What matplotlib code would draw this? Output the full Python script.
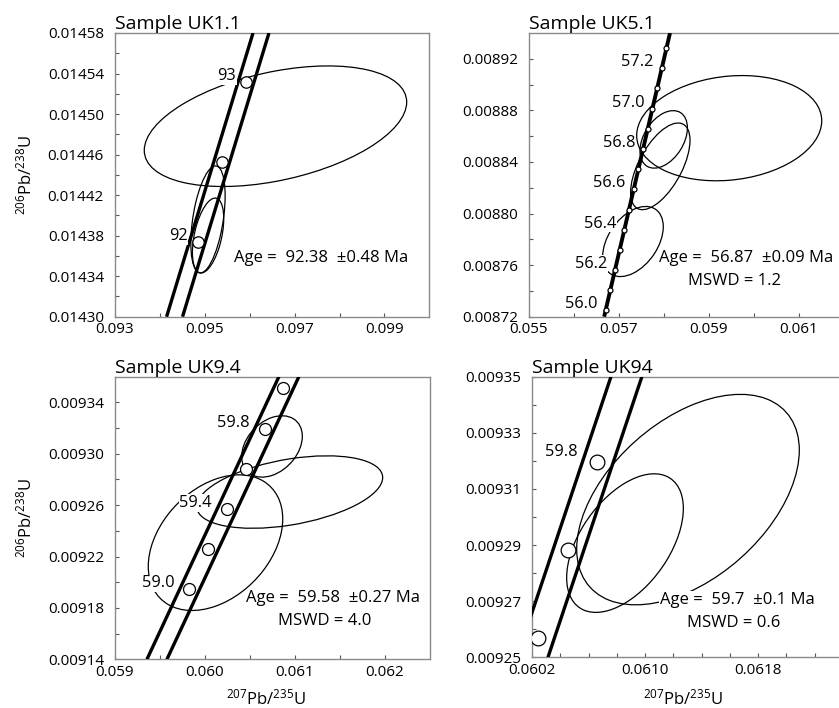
import matplotlib
matplotlib.use('Agg')
import matplotlib.pyplot as plt
from matplotlib.patches import Ellipse
from matplotlib.transforms import Affine2D
from matplotlib.ticker import FixedLocator, FixedFormatter, NullFormatter
import numpy as np

plt.rcParams['font.family'] = ['Open Sans', 'DejaVu Sans']
plt.rcParams['mathtext.fontset'] = 'custom'
plt.rcParams['mathtext.rm'] = 'Open Sans'
plt.rcParams['mathtext.it'] = 'Open Sans:italic'
plt.rcParams['mathtext.bf'] = 'Open Sans:bold'

# ---------------- Panel 1 : UK1.1 ----------------
p1_title = "Sample UK1.1"
p1_xlim = (0.093, 0.100)
p1_ylim = (0.01430, 0.01458)
p1_xmajor = [0.093, 0.095, 0.097, 0.099]
p1_xlabels = ["0.093", "0.095", "0.097", "0.099"]
p1_xminor = [0.094, 0.096, 0.098]
p1_ymajor = [0.01430, 0.01434, 0.01438, 0.01442, 0.01446, 0.01450, 0.01454, 0.01458]
p1_ylabels = ["0.01430", "0.01434", "0.01438", "0.01442", "0.01446", "0.01450", "0.01454", "0.01458"]
p1_yminor = [0.01432, 0.01436, 0.01440, 0.01444, 0.01448, 0.01452, 0.01456]
p1_band_x = [[0.094149, 0.096074], [0.094504, 0.096429]]
p1_band_y = [[0.01430, 0.01458], [0.01430, 0.01458]]
p1_mark_x = [0.0948378, 0.0953770, 0.0959166]
p1_mark_y = [0.0143738, 0.0144525, 0.0145312]
p1_mark_lab = ["92", "", "93"]
p1_ell_x = [0.096574, 0.095071, 0.095073]
p1_ell_y = [0.014488, 0.014396, 0.0143801]
p1_ell_sx = [0.002922, 0.000382, 0.000349]
p1_ell_sy = [5.95e-5, 5.28e-5, 3.70e-5]
p1_ell_rho = [0.40, 0.44, 0.45]
p1_age = "Age =  92.38  \u00b10.48 Ma"
p1_mswd = ""

# ---------------- Panel 2 : UK5.1 ----------------
p2_title = "Sample UK5.1"
p2_xlim = (0.055, 0.062)
p2_ylim = (0.00872, 0.00894)
p2_xmajor = [0.055, 0.057, 0.059, 0.061]
p2_xlabels = ["0.055", "0.057", "0.059", "0.061"]
p2_xminor = [0.056, 0.058, 0.060]
p2_ymajor = [0.00872, 0.00876, 0.00880, 0.00884, 0.00888, 0.00892]
p2_ylabels = ["0.00872", "0.00876", "0.00880", "0.00884", "0.00888", "0.00892"]
p2_yminor = [0.00874, 0.00878, 0.00882, 0.00886, 0.00890]
p2_band_x = [[0.05667, 0.058133]]
p2_band_y = [[0.00872, 0.00894]]
p2_mark_x = [0.0567008, 0.0568049, 0.0569090, 0.0570131, 0.0571172, 0.0572214, 0.0573255,
             0.0574297, 0.0575339, 0.0576381, 0.0577423, 0.0578466, 0.0579508, 0.0580551]
p2_mark_y = [0.0087249, 0.0087405, 0.0087562, 0.0087718, 0.0087875, 0.0088031, 0.0088188,
             0.0088344, 0.0088501, 0.0088657, 0.0088814, 0.0088970, 0.0089127, 0.0089283]
p2_mark_lab = ["56.0", "", "56.2", "", "56.4", "", "56.6", "", "56.8", "", "57.0", "", "57.2", ""]
p2_ell_x = [0.059449, 0.057993, 0.057918, 0.057311]
p2_ell_y = [0.0088662, 0.0088575, 0.0088366, 0.0087783]
p2_ell_sx = [0.002056, 0.000527, 0.000660, 0.000673]
p2_ell_sy = [4.08e-5, 2.23e-5, 3.36e-5, 2.72e-5]
p2_ell_rho = [0.14, 0.40, 0.60, 0.42]
p2_age = "Age =  56.87  \u00b10.09 Ma"
p2_mswd = "MSWD = 1.2"

# ---------------- Panel 3 : UK9.4 ----------------
p3_title = "Sample UK9.4"
p3_xlim = (0.059, 0.0625)
p3_ylim = (0.00914, 0.00936)
p3_xmajor = [0.059, 0.060, 0.061, 0.062]
p3_xlabels = ["0.059", "0.060", "0.061", "0.062"]
p3_xminor = [0.0595, 0.0605, 0.0615]
p3_ymajor = [0.00914, 0.00918, 0.00922, 0.00926, 0.00930, 0.00934]
p3_ylabels = ["0.00914", "0.00918", "0.00922", "0.00926", "0.00930", "0.00934"]
p3_yminor = [0.00916, 0.00920, 0.00924, 0.00928, 0.00932]
p3_band_x = [[0.059355, 0.060821], [0.059577, 0.061043]]
p3_band_y = [[0.00914, 0.00936], [0.00914, 0.00936]]
p3_mark_x = [0.0598276, 0.0600364, 0.0602451, 0.0604540, 0.0606628, 0.0608717]
p3_mark_y = [0.0091944, 0.0092257, 0.0092570, 0.0092883, 0.0093196, 0.0093509]
p3_mark_lab = ["59.0", "", "59.4", "", "59.8", ""]
p3_ell_x = [0.0607444, 0.0609411, 0.0601167]
p3_ell_y = [0.0093057, 0.0092702, 0.0092308]
p3_ell_sx = [0.000337, 0.001033, 0.000747]
p3_ell_sy = [2.39e-5, 2.82e-5, 5.28e-5]
p3_ell_rho = [0.33, 0.40, 0.35]
p3_age = "Age =  59.58  \u00b10.27 Ma"
p3_mswd = "MSWD = 4.0"

# ---------------- Panel 4 : UK94 ----------------
p4_title = "Sample UK94"
p4_xlim = (0.0602, 0.0624)
p4_ylim = (0.00925, 0.00935)
p4_xmajor = [0.0602, 0.0610, 0.0618]
p4_xlabels = ["0.0602", "0.0610", "0.0618"]
p4_xminor = [0.0604, 0.0606, 0.0608, 0.0612, 0.0614, 0.0616, 0.0620, 0.0622]
p4_ymajor = [0.00925, 0.00927, 0.00929, 0.00931, 0.00933, 0.00935]
p4_ylabels = ["0.00925", "0.00927", "0.00929", "0.00931", "0.00933", "0.00935"]
p4_yminor = [0.00926, 0.00928, 0.00930, 0.00932, 0.00934]
p4_band_x = [[0.060094, 0.060759], [0.060313, 0.060978]]
p4_band_y = [[0.00925, 0.00935], [0.00925, 0.00935]]
p4_mark_x = [0.0602451, 0.0604540, 0.0606628]
p4_mark_y = [0.0092570, 0.0092883, 0.0093196]
p4_mark_lab = ["", "", "59.8"]
p4_ell_x = [0.0613044, 0.0608584]
p4_ell_y = [0.0093062, 0.0092907]
p4_ell_sx = [0.000788, 0.000413]
p4_ell_sy = [3.75e-5, 2.47e-5]
p4_ell_rho = [0.47, 0.50]
p4_age = "Age =  59.7  \u00b10.1 Ma"
p4_mswd = "MSWD = 0.6"

ylabel_txt = r"$^{206}$Pb/$^{238}$U"
xlabel_txt = r"$^{207}$Pb/$^{235}$U"

W, H = 839, 708
fig = plt.figure(figsize=(W / 100, H / 100), dpi=100)
fig.patch.set_facecolor('white')


def px_axes(left, top, width, height):
    return fig.add_axes([left / W, (H - top - height) / H, width / W, height / H])


GRAY = '#8a8a8a'
WHITE_BOX = dict(facecolor='white', edgecolor='none', pad=0.5)


def draw_panel(ax, title, xlim, ylim, xmajor, xlabels, xminor, ymajor, ylabels, yminor,
               band_x, band_y, band_lw, mark_x, mark_y, mark_lab, mark_ms, lab_off,
               ell_x, ell_y, ell_sx, ell_sy, ell_rho, age, mswd, age_pos, mswd_pos):
    ax.set_xlim(*xlim)
    ax.set_ylim(*ylim)
    for s in ax.spines.values():
        s.set_color(GRAY)
        s.set_linewidth(1.0)
    ax.xaxis.set_major_locator(FixedLocator(xmajor))
    ax.xaxis.set_major_formatter(FixedFormatter(xlabels))
    ax.xaxis.set_minor_locator(FixedLocator(xminor))
    ax.yaxis.set_major_locator(FixedLocator(ymajor))
    ax.yaxis.set_major_formatter(FixedFormatter(ylabels))
    ax.yaxis.set_minor_locator(FixedLocator(yminor))
    ax.xaxis.set_minor_formatter(NullFormatter())
    ax.yaxis.set_minor_formatter(NullFormatter())
    ax.tick_params(which='both', direction='in', length=3, width=0.8, color='#555555',
                   labelsize=11, top=False, right=False)
    ax.tick_params(axis='x', pad=4)
    ax.tick_params(axis='y', pad=8)
    ax.set_title(title, loc='left', fontsize=14, pad=3)

    # error ellipses
    for cx, cy, sx, sy, r in zip(ell_x, ell_y, ell_sx, ell_sy, ell_rho):
        tr = Affine2D(np.array([[sx, 0.0, cx],
                                [sy * r, sy * np.sqrt(1 - r * r), cy],
                                [0, 0, 1]])) + ax.transData
        e = Ellipse((0, 0), 2, 2, transform=tr, facecolor='none', edgecolor='black',
                    linewidth=0.9, zorder=2)
        ax.add_patch(e)

    # concordia band
    for bx, by in zip(band_x, band_y):
        ax.plot(bx, by, color='black', linewidth=band_lw, solid_capstyle='butt', zorder=3)

    # age markers
    ax.plot(mark_x, mark_y, linestyle='none', marker='o', markersize=mark_ms,
            markerfacecolor='white', markeredgecolor='black', markeredgewidth=0.9, zorder=4)
    for mx, my, lab in zip(mark_x, mark_y, mark_lab):
        if lab:
            ax.annotate(lab, (mx, my), xytext=lab_off, textcoords='offset pixels',
                        ha='right', va='center', fontsize=11.8, zorder=5, bbox=WHITE_BOX)

    ax.text(age_pos[0], age_pos[1], age, transform=ax.transAxes, ha='left', va='center',
            fontsize=12, zorder=6, bbox=WHITE_BOX)
    if mswd:
        ax.text(mswd_pos[0], mswd_pos[1], mswd, transform=ax.transAxes, ha='left',
                va='center', fontsize=12, zorder=6, bbox=WHITE_BOX)


ax1 = px_axes(115, 33, 314.3, 283.7)
ax2 = px_axes(529, 33, 315, 283.7)
ax3 = px_axes(115, 376.7, 315, 282.6)
ax4 = px_axes(532, 376.7, 310.75, 280.6)

draw_panel(ax1, p1_title, p1_xlim, p1_ylim, p1_xmajor, p1_xlabels, p1_xminor,
           p1_ymajor, p1_ylabels, p1_yminor, p1_band_x, p1_band_y, 2.4,
           p1_mark_x, p1_mark_y, p1_mark_lab, 8.2, (-10, 6),
           p1_ell_x, p1_ell_y, p1_ell_sx, p1_ell_sy, p1_ell_rho,
           p1_age, p1_mswd, (0.379, 0.207), None)
draw_panel(ax2, p2_title, p2_xlim, p2_ylim, p2_xmajor, p2_xlabels, p2_xminor,
           p2_ymajor, p2_ylabels, p2_yminor, p2_band_x, p2_band_y, 2.8,
           p2_mark_x, p2_mark_y, p2_mark_lab, 3.6, (-8, 6),
           p2_ell_x, p2_ell_y, p2_ell_sx, p2_ell_sy, p2_ell_rho,
           p2_age, p2_mswd, (0.414, 0.206), (0.505, 0.126))
draw_panel(ax3, p3_title, p3_xlim, p3_ylim, p3_xmajor, p3_xlabels, p3_xminor,
           p3_ymajor, p3_ylabels, p3_yminor, p3_band_x, p3_band_y, 2.4,
           p3_mark_x, p3_mark_y, p3_mark_lab, 8.6, (-15, 6),
           p3_ell_x, p3_ell_y, p3_ell_sx, p3_ell_sy, p3_ell_rho,
           p3_age, p3_mswd, (0.416, 0.216), (0.518, 0.137))
draw_panel(ax4, p4_title, p4_xlim, p4_ylim, p4_xmajor, p4_xlabels, p4_xminor,
           p4_ymajor, p4_ylabels, p4_yminor, p4_band_x, p4_band_y, 2.4,
           p4_mark_x, p4_mark_y, p4_mark_lab, 10.6, (-20, 10),
           p4_ell_x, p4_ell_y, p4_ell_sx, p4_ell_sy, p4_ell_rho,
           p4_age, p4_mswd, (0.412, 0.204), (0.498, 0.123))

# axis labels
for ax, w, h in [(ax1, 314.3, 283.7), (ax3, 315, 282.6)]:
    ax.text((25 - 115) / w, 0.5, ylabel_txt, transform=ax.transAxes, rotation=90,
            ha='center', va='center', fontsize=12)
ax3.text(0.48, (659.3 - 698) / 282.6, xlabel_txt, transform=ax3.transAxes,
         ha='center', va='center', fontsize=12)
ax4.text(0.487, (657.3 - 698) / 280.6, xlabel_txt, transform=ax4.transAxes,
         ha='center', va='center', fontsize=12)

fig.savefig('out.png', dpi=100)
